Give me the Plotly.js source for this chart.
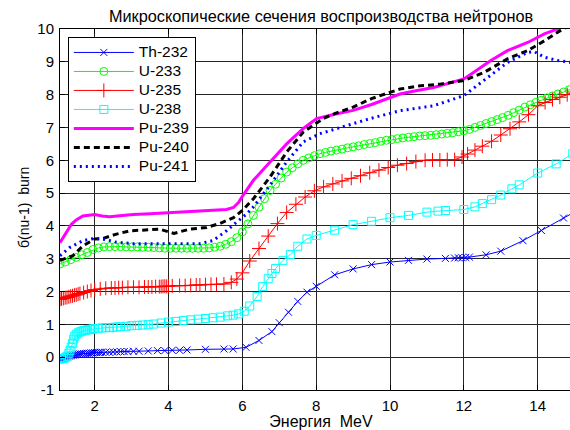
<!DOCTYPE html>
<html><head><meta charset="utf-8">
<script src="https://cdn.plot.ly/plotly-3.0.1.min.js"></script>
<style>html,body{margin:0;padding:0;overflow:hidden;background:#fff}#chart{width:584px;height:430px}</style>
</head><body><div id="chart"></div>
<script>
const names = ["Th-232","U-233","U-235","U-238","Pu-239","Pu-240","Pu-241"];

const thX = [1.06,1.1,1.14,1.18,1.22,1.26,1.3,1.34,1.38,1.42,1.46,1.5,1.55,1.6,1.65,1.7,1.75,1.8,1.85,1.9,1.95,2.0,2.05,2.1,2.15,2.2,2.3,2.4,2.5,2.6,2.7,2.8,2.9,3.05,3.2,3.45,3.7,3.9,4.1,4.3,4.5,5.0,5.5,5.75,6.1,6.45,6.8,7.0,7.25,7.5,7.75,8.0,8.5,9.0,9.5,10.0,10.5,11.0,11.5,11.75,11.85,11.95,12.05,12.15,12.6,13.0,13.6,14.1,14.7,15.2];
const thY = [-0.05,-0.04,-0.03,-0.02,0.0,0.01,0.03,0.04,0.05,0.06,0.07,0.08,0.09,0.1,0.1,0.11,0.11,0.12,0.12,0.13,0.13,0.14,0.14,0.14,0.15,0.15,0.15,0.15,0.16,0.16,0.17,0.17,0.17,0.18,0.18,0.19,0.2,0.2,0.21,0.21,0.22,0.24,0.25,0.25,0.3,0.51,0.78,1.05,1.37,1.7,1.98,2.16,2.51,2.69,2.82,2.9,2.95,2.99,3.01,3.02,3.03,3.03,3.04,3.05,3.12,3.23,3.55,3.86,4.24,4.55];

const u233X = [1.06,1.2,1.35,1.5,1.65,1.8,1.95,2.1,2.25,2.4,2.55,2.7,2.85,3.0,3.15,3.3,3.45,3.6,3.75,3.9,4.05,4.2,4.35,4.5,4.65,4.8,4.95,5.1,5.25,5.4,5.55,5.7,5.85,6.0,6.15,6.3,6.45,6.6,6.75,6.9,7.05,7.2,7.35,7.5,7.65,7.8,7.95,8.1,8.25,8.4,8.55,8.7,8.85,9.0,9.15,9.3,9.45,9.6,9.75,9.9,10.05,10.2,10.35,10.5,10.65,10.8,10.95,11.1,11.25,11.4,11.55,11.7,11.85,12.0,12.15,12.3,12.45,12.6,12.75,12.9,13.05,13.2,13.35,13.5,13.65,13.8,13.95,14.1,14.25,14.4,14.55,14.7,14.85,15.0,15.15];
const u233Y = [2.84,2.9,2.97,3.04,3.12,3.19,3.28,3.33,3.36,3.37,3.37,3.37,3.36,3.36,3.36,3.35,3.35,3.34,3.33,3.32,3.32,3.32,3.32,3.32,3.32,3.32,3.32,3.33,3.35,3.38,3.44,3.52,3.64,3.82,4.06,4.32,4.57,4.83,5.08,5.27,5.46,5.64,5.77,5.89,6.0,6.07,6.14,6.2,6.24,6.28,6.31,6.34,6.38,6.41,6.44,6.48,6.51,6.54,6.58,6.61,6.63,6.66,6.68,6.7,6.72,6.74,6.75,6.76,6.78,6.8,6.82,6.84,6.87,6.9,6.94,7.0,7.06,7.12,7.18,7.24,7.3,7.37,7.45,7.53,7.62,7.69,7.76,7.83,7.9,7.96,8.02,8.08,8.15,8.21,8.27];

const u235X = [1.06,1.1,1.15,1.2,1.25,1.3,1.35,1.4,1.45,1.5,1.55,1.6,1.7,1.8,1.9,2.0,2.15,2.3,2.45,2.55,2.65,2.75,2.9,3.05,3.2,3.35,3.45,3.55,3.65,3.75,3.8,3.85,3.9,3.95,4.0,4.1,4.3,4.45,4.6,4.75,4.85,5.0,5.15,5.3,5.5,5.7,5.85,6.0,6.2,6.45,6.7,6.95,7.2,7.45,7.7,7.95,8.2,8.45,8.7,8.95,9.2,9.45,9.7,9.95,10.2,10.45,10.7,10.95,11.15,11.35,11.55,11.75,11.95,12.1,12.3,12.5,12.75,13.0,13.25,13.5,13.75,14.0,14.2,14.4,14.6,14.8,15.0,15.15];
const u235Y = [1.76,1.78,1.79,1.81,1.82,1.84,1.86,1.87,1.89,1.9,1.92,1.94,1.97,2.0,2.03,2.06,2.08,2.1,2.11,2.11,2.12,2.12,2.13,2.13,2.13,2.14,2.14,2.14,2.15,2.15,2.15,2.16,2.16,2.16,2.16,2.17,2.18,2.18,2.19,2.2,2.2,2.21,2.22,2.22,2.23,2.28,2.38,2.57,2.93,3.31,3.69,4.07,4.41,4.66,4.88,5.07,5.19,5.28,5.37,5.45,5.53,5.62,5.7,5.78,5.85,5.9,5.96,6.0,6.01,6.01,6.02,6.02,6.1,6.19,6.31,6.43,6.58,6.77,6.96,7.17,7.39,7.66,7.76,7.85,7.92,8.0,8.08,8.15];

const u238X = [1.06,1.1,1.15,1.2,1.25,1.3,1.33,1.36,1.4,1.43,1.46,1.5,1.55,1.6,1.65,1.7,1.75,1.8,1.85,1.9,1.95,2.0,2.1,2.2,2.3,2.4,2.5,2.6,2.7,2.85,3.0,3.15,3.3,3.45,3.6,3.8,4.0,4.2,4.4,4.6,4.8,5.0,5.2,5.4,5.6,5.75,5.9,6.05,6.2,6.4,6.55,6.7,6.8,6.9,7.1,7.3,7.5,7.75,8.0,8.5,9.0,9.5,10.0,10.5,11.0,11.3,11.5,12.0,12.3,12.5,12.75,13.0,13.3,13.5,14.0,14.5,14.95,15.2];
const u238Y = [-0.06,-0.05,-0.04,-0.02,0.03,0.12,0.2,0.3,0.42,0.55,0.64,0.7,0.74,0.77,0.79,0.81,0.82,0.83,0.84,0.85,0.86,0.87,0.88,0.89,0.9,0.9,0.91,0.92,0.93,0.94,0.96,0.97,0.98,0.99,1.01,1.04,1.07,1.09,1.12,1.14,1.16,1.18,1.2,1.22,1.26,1.28,1.32,1.4,1.56,1.85,2.15,2.39,2.55,2.7,2.95,3.13,3.38,3.6,3.71,3.87,4.04,4.14,4.25,4.32,4.42,4.45,4.47,4.5,4.58,4.68,4.8,4.94,5.13,5.25,5.61,5.89,6.2,6.38];

const pu239X = [1.06,1.2,1.37,1.5,1.68,2.0,2.2,2.4,2.7,3.04,3.5,4.0,4.5,4.85,5.2,5.57,5.76,5.9,6.0,6.3,6.75,7.2,7.65,8.01,8.5,9.0,9.5,10.0,10.27,10.7,11.18,11.6,12.0,12.27,12.73,13.18,13.73,14.18,14.55,15.0];
const pu239Y = [3.49,3.75,4.05,4.18,4.3,4.35,4.3,4.28,4.32,4.35,4.37,4.4,4.42,4.45,4.47,4.5,4.56,4.72,4.9,5.39,5.95,6.5,6.97,7.27,7.4,7.52,7.7,7.92,8.02,8.12,8.22,8.35,8.48,8.68,9.04,9.34,9.59,9.85,10.0,10.2];

const pu240X = [1.06,1.41,1.68,2.0,2.23,2.59,2.95,3.49,3.76,4.0,4.15,4.3,4.57,5.03,5.4,5.76,6.0,6.3,6.75,7.2,7.65,8.19,8.5,9.0,9.5,10.0,10.27,10.82,11.36,12.0,12.55,13.18,13.73,14.18,14.68,15.1];
const pu240Y = [2.95,3.09,3.39,3.6,3.62,3.75,3.85,3.88,3.9,3.82,3.77,3.82,3.9,3.95,4.08,4.25,4.47,4.83,5.49,6.25,6.86,7.27,7.42,7.62,7.88,8.07,8.17,8.27,8.32,8.43,8.68,9.09,9.34,9.64,10.0,10.25];

const pu241X = [1.06,1.32,1.68,2.0,2.32,2.59,3.04,3.94,4.85,5.2,5.4,5.57,5.85,6.1,6.3,6.75,7.2,7.65,8.1,8.55,9.46,10.27,11.18,12.0,12.55,13.18,13.73,13.91,14.18,14.55,14.9,15.2];
const pu241Y = [3.09,3.34,3.55,3.62,3.58,3.5,3.46,3.46,3.46,3.55,3.72,3.85,4.12,4.35,4.58,5.24,5.95,6.56,6.81,6.97,7.27,7.51,7.66,7.97,8.43,8.98,9.29,9.31,9.14,9.04,8.98,8.95];

const xTicks = [2,4,6,8,10,12,14];
const yTicks = [-1,0,1,2,3,4,5,6,7,8,9,10];

const F = "Liberation Sans, Arial, sans-serif";
const lg = n => '<span style="font-size:15.5px">' + n + '</span>';
const traces = [
  {x: thX, y: thY, name: lg(names[0]), mode: "lines+markers",
   line: {color: "#0000ff", width: 1},
   marker: {symbol: "x-thin-open", size: 7, color: "#0000ff", line: {color: "#0000ff", width: 1}}},
  {x: u233X, y: u233Y, name: lg(names[1]), mode: "lines+markers",
   line: {color: "#00ff00", width: 1},
   marker: {symbol: "circle-open", size: 8, color: "#00ff00", line: {color: "#00ff00", width: 1}}},
  {x: u235X, y: u235Y, name: lg(names[2]), mode: "lines+markers",
   line: {color: "#ff0000", width: 1},
   marker: {symbol: "cross-thin-open", size: 10, color: "#ff0000", line: {color: "#ff0000", width: 1}}},
  {x: u238X, y: u238Y, name: lg(names[3]), mode: "lines+markers",
   line: {color: "#00ffff", width: 1},
   marker: {symbol: "square-open", size: 8, color: "#00ffff", line: {color: "#00ffff", width: 1}}},
  {x: pu239X, y: pu239Y, name: lg(names[4]), mode: "lines",
   line: {color: "#ff00ff", width: 3}},
  {x: pu240X, y: pu240Y, name: lg(names[5]), mode: "lines",
   line: {color: "#000000", width: 3, dash: "6px,4px"}},
  {x: pu241X, y: pu241Y, name: lg(names[6]), mode: "lines",
   line: {color: "#0000ff", width: 3, dash: "2px,4px"}}
];

const axBase = {
  showline: true, linecolor: "#000", linewidth: 1, mirror: "ticks",
  ticks: "inside", ticklen: 5, tickcolor: "#000",
  showgrid: true, gridcolor: "#262626", gridwidth: 1,
  zeroline: false, tickfont: {family: F, size: 15, color: "#000"}
};

const layout = {
  width: 584, height: 430,
  margin: {l: 60, r: 2, t: 29, b: 40},
  paper_bgcolor: "#fff", plot_bgcolor: "#fff",
  showlegend: true,
  title: {text: "Микроскопические сечения воспроизводства нейтронов",
          font: {family: F, size: 16.3, color: "#000"},
          x: 0.5, xref: "paper", y: 0.963, yref: "container", yanchor: "middle"},
  xaxis: Object.assign({}, axBase, {range: [1.06, 15.2], tickvals: xTicks, ticktext: xTicks.map(String),
          ticklabelstandoff: 2,
          title: {text: "Энергия\u00a0\u00a0MeV", font: {family: F, size: 16, color: "#000"}}}),
  yaxis: Object.assign({}, axBase, {range: [-1, 10], tickvals: yTicks, ticktext: yTicks.map(String),
          ticklabelstandoff: 2}),
  annotations: [{text: "б(nu-1)\u00a0\u00a0burn", textangle: -90, showarrow: false,
                 xref: "paper", yref: "paper", x: -0.069, y: 0.507, xanchor: "center", yanchor: "middle",
                 font: {family: F, size: 14, color: "#000"}}],
  legend: {x: 0.015, y: 0.978, xanchor: "left", yanchor: "top",
           bgcolor: "#fff", bordercolor: "#000", borderwidth: 1,
           font: {family: F, size: 12, color: "#000"}, itemwidth: 60, tracegroupgap: 0}
};

Plotly.newPlot("chart", traces, layout, {displayModeBar: false, staticPlot: true});
</script></body></html>
